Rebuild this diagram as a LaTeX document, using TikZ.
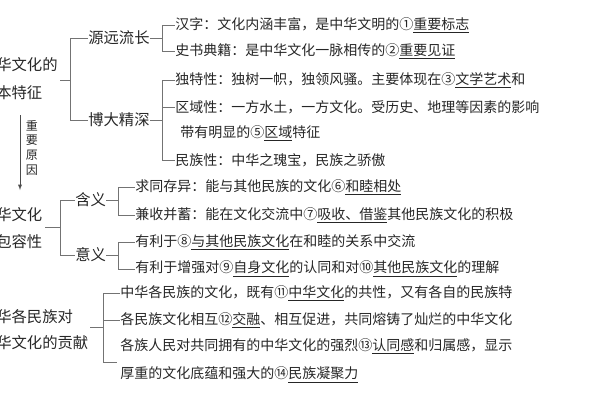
\documentclass[tikz,border=0pt]{standalone}
\usepackage{fontspec}
\setmainfont{Noto Sans CJK SC}
\newcommand{\ul}[1]{\underline{#1}}
\tikzset{
  txt/.style={anchor=west, inner sep=0pt, font=\fontsize{10.5}{12}\selectfont, text=black!85},
  big/.style={txt, font=\fontsize{11.5}{13}\selectfont},
  brk/.style={draw=black!55, line width=0.6pt}
}
\begin{document}
\begin{tikzpicture}[x=0.75pt,y=-0.75pt]
    \useasboundingbox (0,0) rectangle (600,400);
    \clip (0,0) rectangle (600,400);
    % First group
    \node[big] (A1) at (-4,65) {华文化的};
    \node[big] (A2) at (-4,93) {本特征};
    \node[big] (B1) at (88,38) {源远流长};
    \node[big] (B2) at (88,120) {博大精深};
    \draw[brk] (60,80) -- (70,80) (70,38) -- (70,120)
        (70,38) -- (B1.west) (70,120) -- (B2.west);
    % Branch texts
    \foreach \y/\t in {25/{汉字：文化内涵丰富，是中华文明的①\ul{重要标志}},
        51/{史书典籍：是中华文化一脉相传的②\ul{重要见证}},
        80/{独特性：独树一帜，独领风骚。主要体现在③\ul{文学艺术}和},
        107/{区域性：一方水土，一方文化。受历史、地理等因素的影响},
        160/{民族性：中华之瑰宝，民族之骄傲}} {
        \node[txt] (T-\y) at (175,\y) {\t};
        \draw[brk] (162,\y) -- (T-\y.west);
    }
    \node[txt] (T-133) at (180,133) {带有明显的⑤\ul{区域}特征};
    \draw[brk] (B1.east) -- (162,38) (162,25) -- (162,51);
    \draw[brk] (B2.east) -- (162,120) (162,80) -- (162,160);
    % Arrow
    \draw[-latex, black!70] (20,115) -- (20,190);
    \node[txt, anchor=north, align=center, font=\fontsize{9}{11}\selectfont] (R) at (32,120) {重\\要\\原\\因};
    % Second group
    \node[big] (C1) at (-4,215) {华文化};
    \node[big] (C2) at (-4,242) {包容性};
    \node[big] (D1) at (75,200) {含义};
    \node[big] (D2) at (75,255) {意义};
    \draw[brk] (45,227) -- (60,227) (60,200) -- (60,255)
        (60,200) -- (D1.west) (60,255) -- (D2.west);
    \foreach \y/\t in {187/{求同存异：能与其他民族的文化⑥\ul{和睦相处}},
        215/{兼收并蓄：能在文化交流中⑦\ul{吸收、借鉴}其他民族文化的积极},
        242/{有利于⑧\ul{与其他民族文化}在和睦的关系中交流},
        269/{有利于增强对⑨\ul{自身文化}的认同和对⑩\ul{其他民族文化}的理解}} {
        \node[txt] (S-\y) at (135,\y) {\t};
        \draw[brk] (118,\y) -- (S-\y.west);
    }
    \draw[brk] (D1.east) -- (118,200) (118,187) -- (118,215);
    \draw[brk] (D2.east) -- (118,255) (118,242) -- (118,269);
    % Third group
    \node[big] (E1) at (-4,317) {华各民族对};
    \node[big] (E2) at (-4,343) {华文化的贡献};
    \draw[brk] (90,327) -- (103,327) (103,293) -- (103,362);
    \foreach \y/\t in {293/{中华各民族的文化，既有⑪\ul{中华文化}的共性，又有各自的民族特},
        320/{各民族文化相互⑫\ul{交融}、相互促进，共同熔铸了灿烂的中华文化},
        346/{各族人民对共同拥有的中华文化的强烈⑬\ul{认同感}和归属感，显示} } {
        \node[txt] (U-\y) at (120,\y) {\t};
    }
    \node[txt] (U-375) at (120,375) {厚重的文化底蕴和强大的⑭\ul{民族凝聚力}};
    \draw[brk] (103,293) -- (U-293.west) (103,320) -- (U-320.west) (103,362) -- (117,362);
\end{tikzpicture}
\end{document}
